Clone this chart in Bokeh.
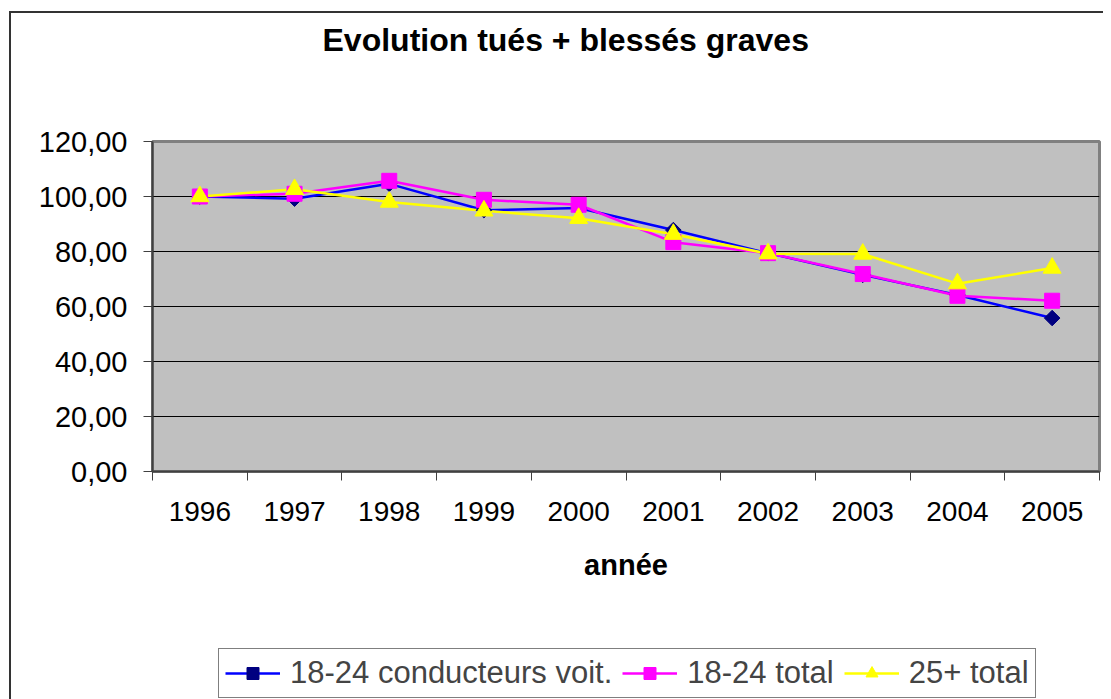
import math
from bokeh.plotting import figure
from bokeh.layouts import column
from bokeh.models import (Range1d, LinearAxis, FixedTicker,
                          Legend, LegendItem, Title, Grid)
from bokeh.embed import file_html
from bokeh.resources import INLINE

# ---- data ----
years = ["1996", "1997", "1998", "1999", "2000", "2001", "2002", "2003", "2004", "2005"]
conducteurs_18_24 = [100.0, 99.2, 104.6, 95.0, 95.8, 87.8, 79.4, 71.5, 64.2, 55.8]
total_18_24 = [100.0, 101.0, 105.7, 98.8, 97.0, 83.4, 79.4, 71.8, 63.9, 62.1]
total_25plus = [100.0, 102.6, 98.0, 94.8, 92.1, 86.3, 79.2, 79.1, 68.3, 74.0]
y_ticks = [0, 20, 40, 60, 80, 100, 120]
series_names = ["18-24 conducteurs voit.", "18-24 total", "25+ total"]
title_text = "Evolution tués + blessés graves"
x_title = "année"

FONT = "Liberation Sans"
BORDER = "#333333"

# category positions (centre of each category slot)
xpos = [i + 0.5 for i in range(len(years))]
bounds = list(range(len(years) + 1))

styles_line = {
    "18-24 conducteurs voit.": dict(line_color="#0000FF", marker="square", angle=math.pi / 4,
                                    size=11, fill_color="#000080", mline="#000080"),
    "18-24 total": dict(line_color="#FF00FF", marker="square", angle=0.0,
                        size=15, fill_color="#FF00FF", mline="#FF00FF"),
    "25+ total": dict(line_color="#FFFF00", marker="triangle", angle=0.0,
                      size=18, fill_color="#FFFF00", mline="#FFFF00"),
}
series_values = [conducteurs_18_24, total_18_24, total_25plus]

# ================= chart =================
fig = figure(width=1103, height=640, title=None,
             x_range=Range1d(0, len(years)), y_range=Range1d(0, 120),
             x_axis_location=None, y_axis_location=None,
             output_backend="svg", toolbar_location=None,
             background_fill_color="#C0C0C0",
             border_fill_color="white", border_fill_alpha=0.0,
             outline_line_color="#808080", outline_line_width=3,
             min_border_left=152, min_border_right=4,
             min_border_top=141, min_border_bottom=169)
fig.center = []
# outer chart border (left and top edges visible in the reference)
fig.styles = {"background": f"linear-gradient({BORDER}, {BORDER}) 9px 11px / 2px 100% no-repeat, "
                            f"linear-gradient({BORDER}, {BORDER}) 9px 11px / 100% 2px no-repeat, #ffffff"}


def spacer(gap):
    """An empty axis used only to reserve space in a side panel."""
    return LinearAxis(ticker=FixedTicker(ticks=[]), axis_line_color=None,
                      major_tick_line_color=None, minor_tick_line_color=None,
                      major_label_text_font_size="1px",
                      axis_label="\u00a0", axis_label_text_font_size="1px",
                      axis_label_standoff=gap)


fig.add_layout(Grid(dimension=1, ticker=FixedTicker(ticks=y_ticks),
                    grid_line_color="black", grid_line_width=1))

yaxis = LinearAxis(ticker=FixedTicker(ticks=y_ticks),
                   major_label_overrides={v: f"{v:.2f}".replace(".", ",") for v in y_ticks},
                   major_tick_out=9, major_tick_in=0, minor_tick_out=0, minor_tick_in=0,
                   major_label_standoff=16,
                   major_label_text_font=FONT, major_label_text_font_size="29px",
                   major_label_text_color="black",
                   axis_line_color="#404040", axis_line_width=2,
                   major_tick_line_color="#404040", major_tick_line_width=1)
fig.add_layout(yaxis, "left")

tick_axis = LinearAxis(ticker=FixedTicker(ticks=bounds),
                       major_label_overrides={i: "" for i in bounds},
                       major_label_text_font_size="1px", major_label_standoff=0,
                       major_tick_out=9, major_tick_in=0, minor_tick_out=0, minor_tick_in=0,
                       axis_line_color="#404040", axis_line_width=2,
                       major_tick_line_color="#404040", major_tick_line_width=1)
fig.add_layout(tick_axis, "below")

cat_axis = LinearAxis(ticker=FixedTicker(ticks=xpos),
                      major_label_overrides={x: y for x, y in zip(xpos, years)},
                      axis_line_color=None, major_tick_line_color=None,
                      minor_tick_line_color=None,
                      major_tick_out=0, major_tick_in=0, minor_tick_out=0, minor_tick_in=0,
                      major_label_text_font=FONT, major_label_text_font_size="28px",
                      major_label_text_color="black", major_label_standoff=21,
                      axis_label=x_title, axis_label_text_font=FONT,
                      axis_label_text_font_size="29px", axis_label_text_font_style="bold",
                      axis_label_text_color="black", axis_label_standoff=25)
fig.add_layout(cat_axis, "below")

fig.add_layout(spacer(80), "above")
fig.add_layout(Title(text=title_text, align="left", offset=170, standoff=0,
                     text_font=FONT, text_font_size="32px", text_font_style="bold",
                     text_color="black"), "above")


def draw_series(target):
    lines, marks = [], []
    for name, vals in zip(series_names, series_values):
        st = styles_line[name]
        lines.append(target.line(xpos, vals, line_color=st["line_color"], line_width=2.5))
    for name, vals in zip(series_names, series_values):
        st = styles_line[name]
        marks.append(target.scatter(xpos, vals, marker=st["marker"], angle=st["angle"],
                                    size=st["size"], fill_color=st["fill_color"],
                                    line_color=st["mline"]))
    return lines, marks


draw_series(fig)

# ================= legend strip under the chart =================
leg = figure(width=1103, height=59, title=None,
             x_range=Range1d(-20, -19), y_range=Range1d(0, 120),
             x_axis_location=None, y_axis_location=None,
             output_backend="svg", toolbar_location=None,
             background_fill_alpha=0.0, border_fill_alpha=0.0,
             outline_line_color=None, min_border=0)
leg.center = []
leg.styles = {"background": f"linear-gradient({BORDER}, {BORDER}) 9px 0px / 2px 100% no-repeat, #ffffff"}
llines, lmarks = draw_series(leg)   # same series, outside the strip's view: only the key shows

legend = Legend(items=[LegendItem(label=n, renderers=[a, b])
                       for n, a, b in zip(series_names, llines, lmarks)],
                orientation="horizontal", location=(66, 1), margin=0,
                label_text_font=FONT, label_text_font_size="31px",
                glyph_width=55, glyph_height=30, label_standoff=10, spacing=10,
                padding=6, border_line_color="black", border_line_width=1,
                background_fill_color="white", background_fill_alpha=1.0)
leg.add_layout(legend, "center")

p = column(fig, leg, spacing=0)

open("out.html", "w").write(file_html(p, INLINE))
